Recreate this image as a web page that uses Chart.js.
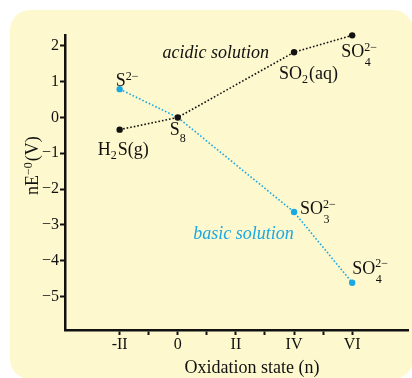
<!DOCTYPE html>
<html>
<head>
<meta charset="utf-8">
<script src="https://cdn.jsdelivr.net/npm/chart.js@4"></script>
<style>
  body { margin: 0; background: #fff; }
  .wrap { position: relative; width: 412px; height: 378px; overflow: hidden; }
  .panel { position: absolute; left: 10px; top: 10px; width: 403px; height: 369px; background: #fdf8cd; border-radius: 20px; }
  #grafico { position: absolute; left: 0; top: 0; }
</style>
</head>
<body>
<div class="wrap">
  <div class="panel"></div>
  <canvas id="grafico" width="412" height="378"></canvas>
</div>
<script>
// oxidation states on the x axis and their roman labels
const oxStates = [-2, 0, 2, 4, 6];
const oxLabels = ['-II', '0', 'II', 'IV', 'VI'];
const xTickMarks = [-2, -1, 0, 1, 2, 3, 4, 5, 6];
const yTickValues = [-5, -4, -3, -2, -1, 0, 1, 2];

// acidic solution: H2S(g), S8, SO2(aq), SO4 2-
const acidicStates = [-2, 0, 4, 6];
const acidicValues = [-0.34, 0, 1.82, 2.29];

// basic solution: S2-, S8, SO3 2-, SO4 2-
const basicStates = [-2, 0, 4, 6];
const basicValues = [0.79, 0, -2.64, -4.61];

const serif = '"Liberation Serif", Tinos, "Times New Roman", Times, "DejaVu Serif", serif';
const azul = '#1ba8e2';

// species names (tokens) drawn next to each point, dx/dy = offset of the text baseline
const acidicNames = [
  { tok: ['H', { sub: '2' }, 'S(g)'], dx: -22, dy: 25 },
  { tok: ['S', { sub: '8', drop: 7 }], dx: -8, dy: 18 },
  { tok: ['SO', { sub: '2' }, '(aq)'], dx: -15, dy: 27 },
  { tok: ['SO', { sub: '4', sup: '2\u2212' }], dx: -11, dy: 22 },
];
const basicNames = [
  { tok: ['S', { sup: '2\u2212' }], dx: -4, dy: -3 },
  null,
  { tok: ['SO', { sub: '3', sup: '2\u2212' }], dx: 6, dy: 2 },
  { tok: ['SO', { sub: '4', sup: '2\u2212' }], dx: 0, dy: -9 },
];

const drawChem = (ctx, x, y, tokens, size, color) => {
  let cx = x;
  ctx.fillStyle = color;
  ctx.textAlign = 'left';
  ctx.textBaseline = 'alphabetic';
  tokens.forEach((t) => {
    if (typeof t === 'string') {
      ctx.font = `${size}px ${serif}`;
      ctx.fillText(t, cx, y);
      cx += ctx.measureText(t).width;
      return;
    }
    ctx.font = `${Math.round(size * 0.68)}px ${serif}`;
    let w = 0;
    if (t.sup) {
      ctx.fillText(t.sup, cx, y - size * 0.36);
      w = Math.max(w, ctx.measureText(t.sup).width);
    }
    if (t.sub) {
      const drop = t.drop !== undefined ? t.drop : (t.sup ? size * 0.5 : size * 0.22);
      ctx.fillText(t.sub, cx + (t.sup ? 0.5 : 0), y + drop);
      w = Math.max(w, ctx.measureText(t.sub).width);
    }
    cx += w + 1;
  });
};

const rotulos = {
  id: 'rotulos',
  afterDraw(chart) {
    const { ctx } = chart;
    const xs = chart.scales.x;
    const ys = chart.scales.y;
    ctx.save();

    const nomes = (states, values, names) => {
      states.forEach((s, i) => {
        const n = names[i];
        if (!n) return;
        const px = xs.getPixelForValue(s);
        const py = ys.getPixelForValue(values[i]);
        drawChem(ctx, px + n.dx, py + n.dy, n.tok, 18, '#111');
      });
    };
    nomes(acidicStates, acidicValues, acidicNames);
    nomes(basicStates, basicValues, basicNames);

    ctx.textAlign = 'center';
    ctx.textBaseline = 'alphabetic';
    ctx.font = `italic 18px ${serif}`;
    ctx.fillStyle = '#111';
    ctx.fillText('acidic solution', xs.getPixelForValue(1.31), ys.getPixelForValue(1.66));
    ctx.fillStyle = azul;
    ctx.fillText('basic solution', xs.getPixelForValue(2.26), ys.getPixelForValue(-3.4));

    // axis titles
    ctx.fillStyle = '#111';
    ctx.font = `18px ${serif}`;
    ctx.fillText('Oxidation state (n)', 252, 373);

    ctx.translate(38, 195);
    ctx.rotate(-Math.PI / 2);
    drawChem(ctx, 0, 0, ['nE', { sup: '\u22120' }, '(V)'], 18, '#111');
    ctx.restore();
  },
};

const grafico = document.getElementById('grafico');
new Chart(grafico, {
  type: 'line',
  data: {
    datasets: [
      {
        label: 'acidic solution',
        data: acidicStates.map((s, i) => ({ x: s, y: acidicValues[i] })),
        borderColor: '#111',
        backgroundColor: '#111',
        borderWidth: 1.6,
        borderDash: [1.6, 2],
        pointRadius: 3.2,
        pointBorderWidth: 0,
        pointBackgroundColor: '#111',
        clip: false,
      },
      {
        label: 'basic solution',
        data: basicStates.map((s, i) => ({ x: s, y: basicValues[i] })),
        borderColor: azul,
        backgroundColor: azul,
        borderWidth: 1.6,
        borderDash: [1.6, 2],
        pointRadius: [3.2, 0, 3.2, 3.2],
        pointBorderWidth: 0,
        pointBackgroundColor: azul,
        clip: false,
      },
    ],
  },
  options: {
    responsive: false,
    animation: false,
    layout: { padding: { top: 35, right: 0, left: 0, bottom: 0 } },
    plugins: {
      legend: { display: false },
      tooltip: { enabled: false },
    },
    scales: {
      x: {
        type: 'linear',
        min: -3.88,
        max: 7.92,
        afterBuildTicks: (s) => {
          s.ticks = xTickMarks.map((v) => ({ value: v }));
        },
        afterFit: (s) => {
          s.height = 48;
        },
        ticks: {
          autoSkip: false,
          maxRotation: 0,
          padding: 0,
          color: '#111',
          font: { family: serif, size: 16 },
          callback: (v) => {
            const i = oxStates.indexOf(v);
            return i >= 0 ? oxLabels[i] : '';
          },
        },
        grid: {
          drawOnChartArea: false,
          drawTicks: true,
          tickLength: 5,
          tickWidth: 2,
          tickColor: '#111',
        },
        border: { display: true, color: '#111', width: 2.5 },
      },
      y: {
        min: -5.93,
        max: 2.3,
        afterBuildTicks: (s) => {
          s.ticks = yTickValues.map((v) => ({ value: v }));
        },
        afterFit: (s) => {
          s.width = 65;
        },
        ticks: {
          autoSkip: false,
          padding: 1,
          color: '#111',
          font: { family: serif, size: 16 },
          callback: (v) => (v < 0 ? '\u2212' + Math.abs(v) : String(v)),
        },
        grid: {
          drawOnChartArea: false,
          drawTicks: true,
          tickLength: 5,
          tickWidth: 2,
          tickColor: '#111',
        },
        border: { display: true, color: '#111', width: 2.5 },
      },
    },
  },
  plugins: [rotulos],
});
</script>
</body>
</html>
